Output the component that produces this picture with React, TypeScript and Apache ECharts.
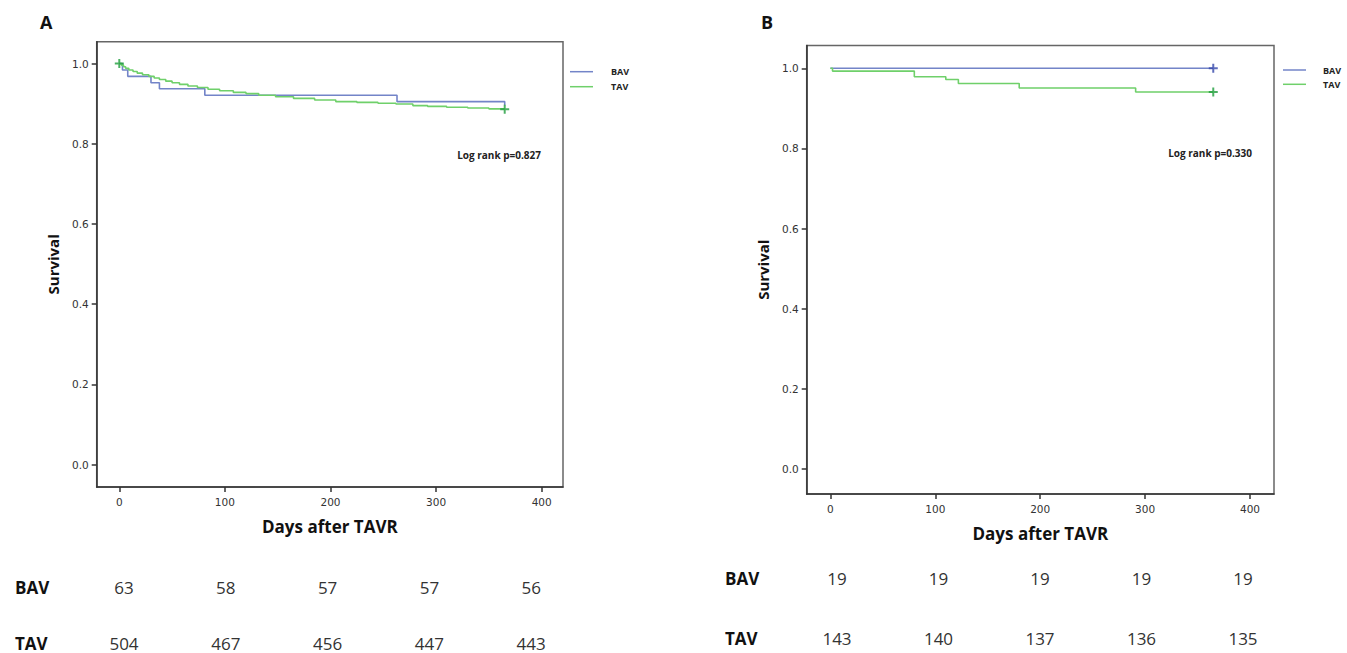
import React, { useEffect, useRef } from "react";
import * as echarts from "echarts";

// ---- Data ----
const xTicks = [0, 100, 200, 300, 400];
const yTicks = [0, 0.2, 0.4, 0.6, 0.8, 1.0];
const groups = ["BAV", "TAV"];

// Panel A
const aBavDays = [0, 3, 8, 30, 38, 81, 263, 365, 365];
const aBavSurv = [1.0, 0.984, 0.968, 0.952, 0.937, 0.921, 0.905, 0.905, 0.896];
const aTavDays = [0, 2, 4, 6, 9, 13, 17, 22, 28, 33, 38, 44, 50, 57, 65, 74, 84, 95, 108, 120, 132, 148, 165, 185, 205, 225, 245, 262, 278, 292, 310, 330, 350, 365];
const aTavSurv = [1.0, 0.996, 0.992, 0.988, 0.984, 0.98, 0.976, 0.972, 0.968, 0.964, 0.96, 0.956, 0.952, 0.948, 0.944, 0.94, 0.936, 0.932, 0.928, 0.925, 0.921, 0.917, 0.913, 0.909, 0.905, 0.903, 0.901, 0.899, 0.895, 0.893, 0.891, 0.889, 0.887, 0.886];
const aCensorTav = [[0, 1.0], [365, 0.886]];
const aLogRank = "Log rank p=0.827";
const aRiskBav = [63, 58, 57, 57, 56];
const aRiskTav = [504, 467, 456, 447, 443];

// Panel B
const bBavDays = [0, 365];
const bBavSurv = [1.0, 1.0];
const bTavDays = [0, 2, 80, 110, 122, 180, 291, 365];
const bTavSurv = [1.0, 0.993, 0.979, 0.972, 0.962, 0.951, 0.941, 0.941];
const bCensorBav = [[365, 1.0]];
const bCensorTav = [[365, 0.941]];
const bLogRank = "Log rank p=0.330";
const bRiskBav = [19, 19, 19, 19, 19];
const bRiskTav = [143, 140, 137, 136, 135];

// ---- Styles ----
const BAV_LINE = "#7384c8";
const TAV_LINE = "#6fd06a";
const BAV_MARK = "#3447aa";
const TAV_MARK = "#1f9e3c";
const AXIS = "#333";
const FRAME = "#666";
const PLUS = "path://M0,3.9 H10 V6.1 H0 Z M3.9,0 H6.1 V10 H3.9 Z";

const zip = (d: number[], s: number[]) => d.map((v, i) => [v, s[i]]);

function axesFor(gi: number, xr: [number, number], yr: [number, number], xName: string, yName: string) {
  const x = {
    gridIndex: gi,
    type: "value",
    min: xr[0],
    max: xr[1],
    name: xName,
    nameLocation: "middle",
    nameGap: 31,
    nameTextStyle: { fontFamily: "Open Sans", fontWeight: "bold", fontSize: 17, color: "#111" },
    axisLine: { show: true, onZero: false, lineStyle: { color: AXIS, width: 1.5 } },
    axisTick: { show: true, customValues: xTicks, length: 5, lineStyle: { color: AXIS, width: 1.5 } },
    axisLabel: { customValues: xTicks, color: "#333", fontSize: 10.5, fontFamily: "DejaVu Sans", margin: 9 },
    splitLine: { show: false },
  };
  const y = {
    gridIndex: gi,
    type: "value",
    min: yr[0],
    max: yr[1],
    name: yName,
    nameLocation: "middle",
    nameGap: 36,
    nameRotate: 90,
    nameTextStyle: { fontFamily: "Open Sans", fontWeight: "bold", fontSize: 15, color: "#111" },
    axisLine: { show: true, onZero: false, lineStyle: { color: AXIS, width: 1.5 } },
    axisTick: { show: true, customValues: yTicks, length: 5, lineStyle: { color: AXIS, width: 1.5 } },
    axisLabel: {
      customValues: yTicks,
      color: "#333",
      fontSize: 10.5,
      fontFamily: "DejaVu Sans",
      margin: 8,
      formatter: (v: number) => v.toFixed(1),
    },
    splitLine: { show: false },
  };
  return { x, y };
}

function lineSeries(name: string, gi: number, data: number[][], color: string) {
  return {
    name,
    type: "line",
    xAxisIndex: gi,
    yAxisIndex: gi,
    step: "end",
    data,
    symbol: "none",
    lineStyle: { color, width: 1.6 },
    z: 3,
  };
}

function censorSeries(name: string, gi: number, data: number[][], color: string) {
  return {
    name: name + " censored",
    type: "scatter",
    xAxisIndex: gi,
    yAxisIndex: gi,
    data,
    symbol: PLUS,
    symbolSize: 9,
    itemStyle: { color },
    z: 5,
  };
}

function legendGraphics(lineX: number, textX: number, y0: number, dy: number) {
  const colors = [BAV_LINE, TAV_LINE];
  const els: any[] = [];
  groups.forEach((g, i) => {
    const y = y0 + i * dy;
    els.push({ type: "line", shape: { x1: lineX, y1: y, x2: lineX + 23, y2: y }, style: { stroke: colors[i], lineWidth: 1.5 } });
    els.push({
      type: "text",
      x: textX,
      y,
      style: { text: g, fontFamily: "Open Sans", fontWeight: "bold", fontSize: 9, fill: "#222", verticalAlign: "middle" },
    });
  });
  return els;
}

function tableGraphics(labelX: number, colX0: number, colStep: number, rowY: number[], rows: number[][]) {
  const els: any[] = [];
  rows.forEach((vals, r) => {
    els.push({
      type: "text",
      x: labelX,
      y: rowY[r],
      style: { text: groups[r], fontFamily: "Open Sans", fontWeight: "bold", fontSize: 17, fill: "#111", verticalAlign: "middle" },
    });
    vals.forEach((v, c) => {
      els.push({
        type: "text",
        x: colX0 + c * colStep,
        y: rowY[r],
        style: { text: String(v), fontFamily: "Open Sans", fontSize: 17, fill: "#333", align: "center", verticalAlign: "middle" },
      });
    });
  });
  return els;
}

export default function App() {
  const ref = useRef<HTMLDivElement>(null);
  useEffect(() => {
    if (!ref.current) return;
    const chart = echarts.init(ref.current, null, { renderer: "svg" });
    const a = axesFor(0, [-21.4, 420.2], [-0.0561, 1.0544], "Days after TAVR", "Survival");
    const b = axesFor(1, [-22.6, 422.9], [-0.0624, 1.0569], "Days after TAVR", "Survival");
    const option: any = {
      animation: false,
      backgroundColor: "#fff",
      grid: [
        { left: 96.7, top: 41.7, width: 466.3, height: 445.3, show: true, borderColor: FRAME, borderWidth: 1.5, backgroundColor: "transparent" },
        { left: 806.7, top: 45.5, width: 467.3, height: 448.5, show: true, borderColor: FRAME, borderWidth: 1.5, backgroundColor: "transparent" },
      ],
      xAxis: [a.x, b.x],
      yAxis: [a.y, b.y],
      series: [
        lineSeries("BAV", 0, zip(aBavDays, aBavSurv), BAV_LINE),
        lineSeries("TAV", 0, zip(aTavDays, aTavSurv), TAV_LINE),
        censorSeries("TAV", 0, aCensorTav, TAV_MARK),
        lineSeries("BAV", 1, zip(bBavDays, bBavSurv), BAV_LINE),
        lineSeries("TAV", 1, zip(bTavDays, bTavSurv), TAV_LINE),
        censorSeries("BAV", 1, bCensorBav, BAV_MARK),
        censorSeries("TAV", 1, bCensorTav, TAV_MARK),
      ],
      graphic: [
        { type: "text", x: 40, y: 22, style: { text: "A", fontFamily: "Open Sans", fontWeight: "bold", fontSize: 18, fill: "#111", verticalAlign: "middle" } },
        { type: "text", x: 761, y: 22, style: { text: "B", fontFamily: "Open Sans", fontWeight: "bold", fontSize: 18, fill: "#111", verticalAlign: "middle" } },
        { type: "text", x: 541, y: 155, style: { text: aLogRank, fontFamily: "Open Sans", fontWeight: "bold", fontSize: 10, fill: "#222", align: "right", verticalAlign: "middle" } },
        { type: "text", x: 1252, y: 153, style: { text: bLogRank, fontFamily: "Open Sans", fontWeight: "bold", fontSize: 10, fill: "#222", align: "right", verticalAlign: "middle" } },
        ...legendGraphics(570, 611, 71.7, 15),
        ...legendGraphics(1283, 1323, 70, 14.3),
        ...tableGraphics(15, 124, 101.8, [587, 643], [aRiskBav, aRiskTav]),
        ...tableGraphics(725, 837, 101.5, [578, 638], [bRiskBav, bRiskTav]),
      ],
    };
    chart.setOption(option);
    return () => chart.dispose();
  }, []);
  return <div ref={ref} style={{ position: "fixed", left: 0, top: 0, width: 1347, height: 653 }} />;
}
